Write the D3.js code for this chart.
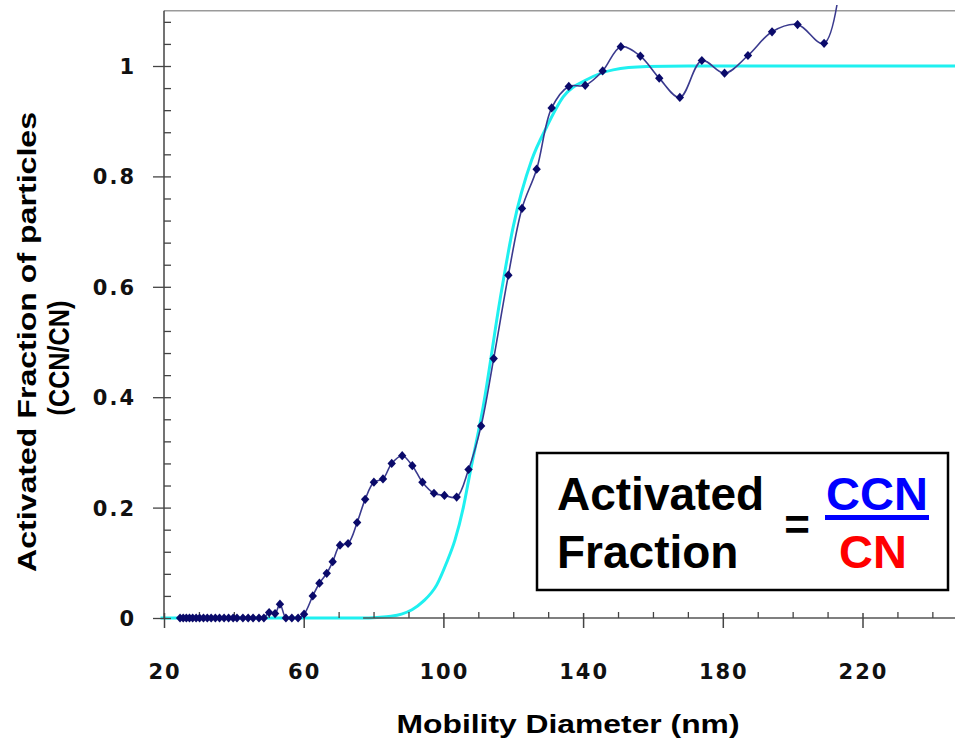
<!DOCTYPE html>
<html>
<head>
<meta charset="utf-8">
<title>Activated Fraction</title>
<script src="https://cdnjs.cloudflare.com/ajax/libs/d3/7.8.5/d3.min.js"></script>
<style>
  body { margin: 0; background: #fff; }
  .tick-label { font-family: "DejaVu Sans", sans-serif; font-weight: bold; font-size: 21px; letter-spacing: 2px; fill: #111; }
  .axis-title { font-family: "Liberation Sans", Arial, sans-serif; font-weight: bold; fill: #000; }
  .box-text { font-family: "Liberation Sans", Arial, sans-serif; font-weight: bold; }
</style>
</head>
<body>
<div id="chart"></div>
<script>
// measured activated fraction (blue diamonds)
const diameters = [24.6, 25.5, 26.4, 27.3, 28.2, 29.2, 30.2, 31.3, 32.4, 33.5, 34.7, 35.9, 37.2, 38.5, 39.8,
  40.9, 42.6, 44.1, 45.5, 47.2, 48.6, 50.1, 51.8, 53.2, 54.9, 56.6, 58.4, 60.1, 62.6, 64.5, 66.6, 68.3,
  70.4, 72.7, 75.3, 77.6, 80.1, 82.7, 85.2, 88.2, 91.1, 94.0, 97.3, 100.3, 103.8, 107.2, 110.8, 114.4,
  118.6, 122.5, 126.7, 131.0, 135.9, 140.6, 145.6, 150.8, 156.4, 161.8, 167.7, 174.0, 180.5, 187.2,
  194.1, 201.4, 209.0, 216.5];
const fractions = [0, 0, 0, 0, 0, 0, 0, 0, 0, 0, 0, 0, 0, 0, 0,
  0, 0, 0, 0, 0, 0, 0.010, 0.008, 0.025, 0, 0, 0, 0.007, 0.040, 0.063, 0.081, 0.102,
  0.132, 0.135, 0.173, 0.215, 0.246, 0.252, 0.280, 0.294, 0.276, 0.246, 0.226, 0.222, 0.219, 0.269, 0.348, 0.470,
  0.621, 0.742, 0.813, 0.924, 0.963, 0.965, 0.991, 1.035, 1.018, 0.978, 0.943, 1.010, 0.987, 1.019,
  1.062, 1.075, 1.041, 1.35];

// fitted curve (cyan)
const fitDiameters = [19, 60, 77, 81, 85, 88, 91, 94.2, 98.1, 100.9, 103.3, 105.7, 107.6, 111.4, 116.2, 120.0,
  125.3, 129.6, 134.3, 141.0, 148.6, 158.2, 170, 250];
const fitFractions = [0, 0, 0, 0.001, 0.003, 0.007, 0.015, 0.030, 0.060, 0.100, 0.141, 0.20, 0.262, 0.383, 0.576, 0.709,
  0.83, 0.89, 0.944, 0.975, 0.993, 0.999, 1.0, 1.0];

const xMajor = [20, 60, 100, 140, 180, 220];
const xMinor = [30, 40, 50, 70, 80, 90, 110, 120, 130, 150, 160, 170, 190, 200, 210, 230, 240, 250];
const yMajor = [0, 0.2, 0.4, 0.6, 0.8, 1];
const yLabels = ["0", "0.2", "0.4", "0.6", "0.8", "1"];
const yMinor = [0.04, 0.08, 0.12, 0.16, 0.24, 0.28, 0.32, 0.36, 0.44, 0.48, 0.52, 0.56,
  0.64, 0.68, 0.72, 0.76, 0.84, 0.88, 0.92, 0.96, 1.04, 1.08];

const w = 955, h = 742;
const x0 = 164, y0 = 618;

const svg = d3.select("#chart").append("svg")
  .attr("width", w).attr("height", h)
  .style("background", "#fff");

const xScale = d3.scaleLinear().domain([20, 250]).range([x0, x0 + 230 * 3.4925]);
const yScale = d3.scaleLinear().domain([0, 1.1]).range([y0, y0 - 1.1 * 552]);

svg.append("clipPath").attr("id", "clip")
  .append("rect").attr("x", 158).attr("y", 5).attr("width", w - 158).attr("height", 625);

// top frame line
svg.append("line")
  .attr("x1", x0).attr("x2", w).attr("y1", yScale(1.1)).attr("y2", yScale(1.1))
  .attr("stroke", "#9a9a9a").attr("stroke-width", 1.5);

// fitted curve (drawn under the axis line like the original)
const fitLine = d3.line()
  .x((d, i) => xScale(fitDiameters[i]))
  .y(d => yScale(d))
  .curve(d3.curveMonotoneX);

svg.append("path")
  .datum(fitFractions)
  .attr("d", fitLine)
  .attr("fill", "none")
  .attr("stroke", "#1ff0f0")
  .attr("stroke-width", 3);

// x axis
const xAxis = svg.append("g")
  .attr("transform", "translate(0," + y0 + ")")
  .call(d3.axisBottom(xScale).tickValues(xMajor).tickSize(10).tickFormat(""));
xAxis.select(".domain").attr("d", "M" + xScale(77) + ",0H" + w).attr("stroke", "#555").attr("stroke-width", 1.5);
xAxis.selectAll(".tick line").attr("y1", -5).attr("y2", 10).attr("stroke", "#444").attr("stroke-width", 1.5);

const xMinorAxis = svg.append("g")
  .attr("transform", "translate(0," + y0 + ")")
  .call(d3.axisBottom(xScale).tickValues(xMinor).tickSize(-6).tickFormat(""));
xMinorAxis.select(".domain").remove();
xMinorAxis.selectAll(".tick line").attr("stroke", "#444").attr("stroke-width", 1.3);

svg.selectAll(".x-label")
  .data(xMajor)
  .enter().append("text")
  .attr("class", "tick-label")
  .attr("x", d => xScale(d) + 1)
  .attr("y", 679)
  .attr("text-anchor", "middle")
  .text(d => d);

// y axis
const yAxis = svg.append("g")
  .attr("transform", "translate(" + x0 + ",0)")
  .call(d3.axisLeft(yScale).tickValues(yMajor).tickSize(11).tickFormat(""));
yAxis.select(".domain").attr("d", "M0," + yScale(1.1) + "V" + y0).attr("stroke", "#444").attr("stroke-width", 1.5);
yAxis.selectAll(".tick line").attr("x2", 7).attr("x1", -11).attr("stroke", "#444").attr("stroke-width", 1.3);

const yMinorAxis = svg.append("g")
  .attr("transform", "translate(" + x0 + ",0)")
  .call(d3.axisLeft(yScale).tickValues(yMinor).tickSize(-7).tickFormat(""));
yMinorAxis.select(".domain").remove();
yMinorAxis.selectAll(".tick line").attr("stroke", "#444").attr("stroke-width", 1.3);

svg.selectAll(".y-label")
  .data(yMajor)
  .enter().append("text")
  .attr("class", "tick-label")
  .attr("x", 136)
  .attr("y", d => yScale(d) + 8)
  .attr("text-anchor", "end")
  .text((d, i) => yLabels[i]);

// measured data
const dataLine = d3.line()
  .x((d, i) => xScale(diameters[i]))
  .y(d => yScale(d))
  .curve(d3.curveCatmullRom.alpha(0.5));

const plot = svg.append("g").attr("clip-path", "url(#clip)");

plot.append("path")
  .datum(fractions)
  .attr("d", dataLine)
  .attr("fill", "none")
  .attr("stroke", "#3a3a8e")
  .attr("stroke-width", 1.6);

plot.selectAll(".marker")
  .data(fractions)
  .enter().append("path")
  .attr("class", "marker")
  .attr("transform", (d, i) => "translate(" + xScale(diameters[i]) + "," + yScale(d) + ")")
  .attr("d", "M0,-4.6L4.2,0L0,4.6L-4.2,0Z")
  .attr("fill", "#0a0a6a");

// axis titles
svg.append("text")
  .attr("class", "axis-title")
  .attr("x", 568).attr("y", 733)
  .attr("text-anchor", "middle")
  .style("font-size", "26px")
  .attr("textLength", 343)
  .attr("lengthAdjust", "spacingAndGlyphs")
  .text("Mobility Diameter (nm)");

svg.append("text")
  .attr("class", "axis-title")
  .attr("transform", "translate(36,342) rotate(-90)")
  .attr("text-anchor", "middle")
  .style("font-size", "26px")
  .attr("textLength", 460)
  .attr("lengthAdjust", "spacingAndGlyphs")
  .text("Activated Fraction of particles");

svg.append("text")
  .attr("class", "axis-title")
  .attr("transform", "translate(69,358) rotate(-90)")
  .attr("text-anchor", "middle")
  .style("font-size", "29px")
  .attr("textLength", 115)
  .attr("lengthAdjust", "spacingAndGlyphs")
  .text("(CCN/CN)");

// formula box
const box = svg.append("g");
box.append("rect")
  .attr("x", 537).attr("y", 453).attr("width", 411).attr("height", 137)
  .attr("fill", "#fff").attr("stroke", "#000").attr("stroke-width", 2.5);

box.append("text").attr("class", "box-text")
  .attr("x", 557).attr("y", 510).style("font-size", "46px").attr("fill", "#000")
  .text("Activated");
box.append("text").attr("class", "box-text")
  .attr("x", 557).attr("y", 568).style("font-size", "46px").attr("fill", "#000")
  .text("Fraction");
box.append("text").attr("class", "box-text")
  .attr("x", 797).attr("y", 540).attr("text-anchor", "middle").style("font-size", "44px").attr("fill", "#000")
  .text("=");
box.append("text").attr("class", "box-text")
  .attr("x", 877).attr("y", 510).attr("text-anchor", "middle").style("font-size", "47px").attr("fill", "#0000ff")
  .text("CCN");
box.append("rect")
  .attr("x", 825).attr("y", 515).attr("width", 104).attr("height", 5).attr("fill", "#0000ff");
box.append("text").attr("class", "box-text")
  .attr("x", 873).attr("y", 568).attr("text-anchor", "middle").style("font-size", "47px").attr("fill", "#ff0000")
  .text("CN");
</script>
</body>
</html>
